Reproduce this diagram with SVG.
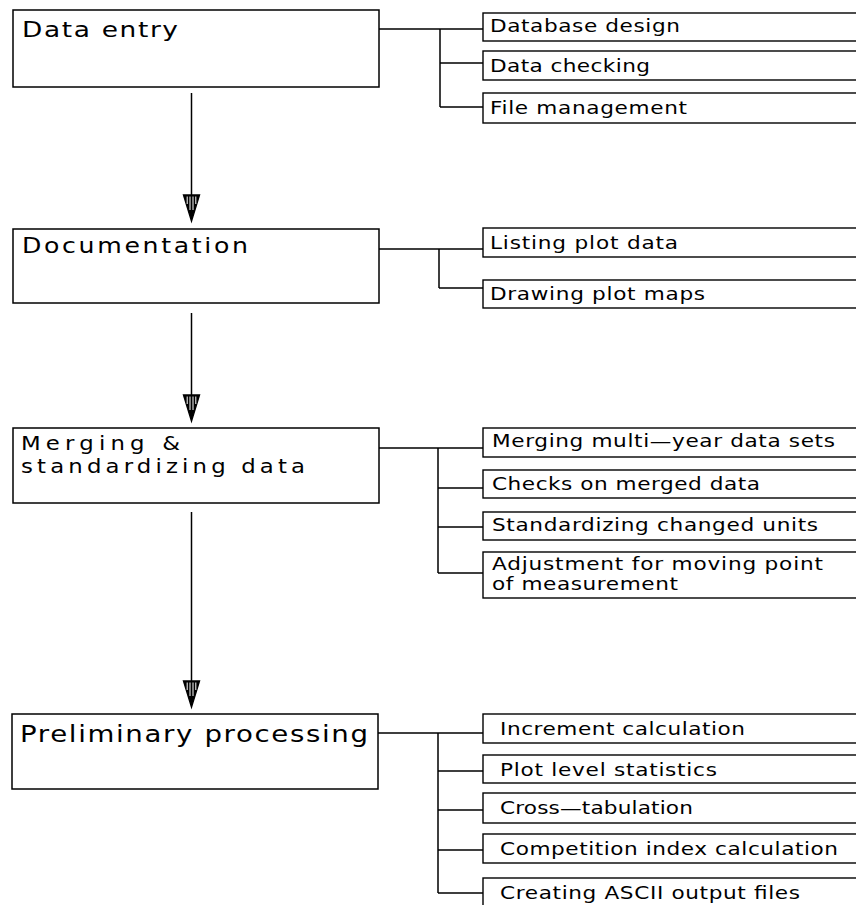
<svg xmlns="http://www.w3.org/2000/svg" width="856" height="905" viewBox="0 0 856 905">
<style>
  .box { fill: #fff; stroke: #000; stroke-width: 1.5; }
  .sub { fill: #fff; stroke: #000; stroke-width: 1.4; }
  .ln { fill: none; stroke: #000; stroke-width: 1.5; }
  .main { font-family: "DejaVu Sans", "Liberation Sans", sans-serif; fill: #000; }
  .st { font-family: "DejaVu Sans", "Liberation Sans", sans-serif; font-size: 18px; fill: #000; }
</style>
<defs>
  <g id="head">
    <polygon points="-8,0 8,0 0,26" fill="#000" stroke="#000" stroke-width="1.4" stroke-linejoin="miter"/>
    <line x1="-4.3" y1="1.5" x2="-4.3" y2="9" stroke="#fff" stroke-width="1"/>
    <line x1="-1.5" y1="1.5" x2="-1.5" y2="15" stroke="#fff" stroke-width="1"/>
    <line x1="1.5" y1="1.5" x2="1.5" y2="15" stroke="#fff" stroke-width="1"/>
    <line x1="4.3" y1="1.5" x2="4.3" y2="9" stroke="#fff" stroke-width="1"/>
  </g>
</defs>

<g id="connectors">
  <path class="ln" d="M379,29 H483 M440,29 V107 M440,63 H483 M440,107 H483"/>
  <path class="ln" d="M379,249 H483 M439,249 V288 M439,288 H483"/>
  <path class="ln" d="M379,448 H483 M438,448 V573 M438,488 H483 M438,527 H483 M438,573 H483"/>
  <path class="ln" d="M378,733 H483 M438,733 V893 M438,771 H483 M438,810 H483 M438,850 H483 M438,893 H483"/>
  <line class="ln" x1="191.5" y1="93" x2="191.5" y2="196"/>
  <use href="#head" x="191.5" y="195"/>
  <line class="ln" x1="191.5" y1="313" x2="191.5" y2="396"/>
  <use href="#head" x="191.5" y="395"/>
  <line class="ln" x1="191.5" y1="512" x2="191.5" y2="681"/>
  <use href="#head" x="191.5" y="681"/>
</g>

<g id="data-entry">
  <rect class="box" x="13" y="10" width="366" height="77"/>
  <text class="main" transform="translate(22,37) scale(1.2,1)" font-size="22" textLength="130">Data entry</text>
</g>
<g id="database-design">
  <rect class="sub" x="483" y="13" width="380" height="28"/>
  <text class="st" transform="translate(490,32) scale(1.2,1)" textLength="158.3">Database design</text>
</g>
<g id="data-checking">
  <rect class="sub" x="483" y="51" width="380" height="29"/>
  <text class="st" transform="translate(490,72) scale(1.2,1)" textLength="133.3">Data checking</text>
</g>
<g id="file-management">
  <rect class="sub" x="483" y="93" width="380" height="30"/>
  <text class="st" transform="translate(490,114) scale(1.2,1)" textLength="164.2">File management</text>
</g>

<g id="documentation">
  <rect class="box" x="13" y="229" width="366" height="74"/>
  <text class="main" transform="translate(22,253) scale(1.2,1)" font-size="21" textLength="188.3">Documentation</text>
</g>
<g id="listing-plot-data">
  <rect class="sub" x="483" y="228" width="380" height="29"/>
  <text class="st" transform="translate(490,249) scale(1.2,1)" textLength="156.7">Listing plot data</text>
</g>
<g id="drawing-plot-maps">
  <rect class="sub" x="483" y="280" width="380" height="28"/>
  <text class="st" transform="translate(490,300) scale(1.2,1)" textLength="179.2">Drawing plot maps</text>
</g>

<g id="merging">
  <rect class="box" x="13" y="428" width="366" height="75"/>
  <text class="main" transform="translate(21,450) scale(1.2,1)" font-size="19" textLength="132.5">Merging &amp;</text>
  <text class="main" transform="translate(21,473) scale(1.2,1)" font-size="19" textLength="236.7">standardizing data</text>
</g>
<g id="merging-multi-year">
  <rect class="sub" x="483" y="428" width="380" height="29"/>
  <text class="st" transform="translate(492,447) scale(1.2,1)" textLength="285.8">Merging multi—year data sets</text>
</g>
<g id="checks-merged">
  <rect class="sub" x="483" y="470" width="380" height="28"/>
  <text class="st" transform="translate(492,490) scale(1.2,1)" textLength="223.3">Checks on merged data</text>
</g>
<g id="standardizing-units">
  <rect class="sub" x="483" y="512" width="380" height="28"/>
  <text class="st" transform="translate(492,531) scale(1.2,1)" textLength="271.7">Standardizing changed units</text>
</g>
<g id="adjustment">
  <rect class="sub" x="483" y="552" width="380" height="46"/>
  <text class="st" transform="translate(492,570) scale(1.2,1)" textLength="275.8">Adjustment for moving point</text>
  <text class="st" transform="translate(492,590) scale(1.2,1)" textLength="155">of measurement</text>
</g>

<g id="preliminary">
  <rect class="box" x="12" y="714" width="366" height="75"/>
  <text class="main" transform="translate(20,742) scale(1.2,1)" font-size="23" textLength="290">Preliminary processing</text>
</g>
<g id="increment">
  <rect class="sub" x="483" y="714" width="380" height="29"/>
  <text class="st" transform="translate(500,735) scale(1.2,1)" textLength="204.2">Increment calculation</text>
</g>
<g id="plot-level">
  <rect class="sub" x="483" y="755" width="380" height="28"/>
  <text class="st" transform="translate(500,776) scale(1.2,1)" textLength="180.8">Plot level statistics</text>
</g>
<g id="cross-tab">
  <rect class="sub" x="483" y="793" width="380" height="30"/>
  <text class="st" transform="translate(500,814) scale(1.2,1)" textLength="160.8">Cross—tabulation</text>
</g>
<g id="competition">
  <rect class="sub" x="483" y="834" width="380" height="29"/>
  <text class="st" transform="translate(500,855) scale(1.2,1)" textLength="281.7">Competition index calculation</text>
</g>
<g id="ascii-output">
  <rect class="sub" x="483" y="878" width="380" height="40"/>
  <text class="st" transform="translate(500,899) scale(1.2,1)" textLength="250">Creating ASCII output files</text>
</g>
</svg>
